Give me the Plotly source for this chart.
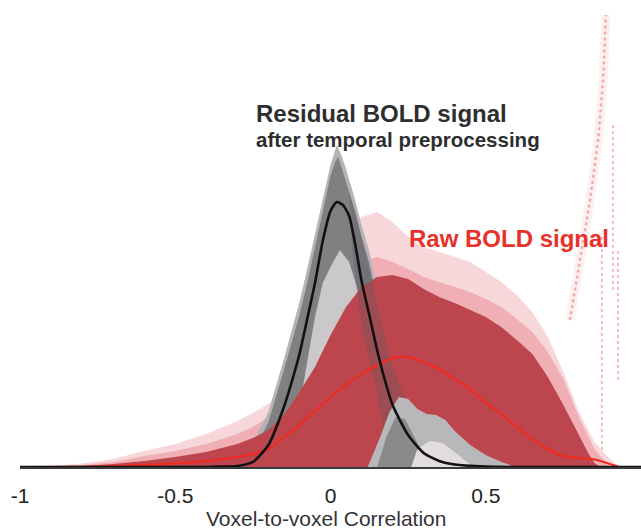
import plotly.graph_objects as go

# ---- Data (x: voxel-to-voxel correlation, y: count, arbitrary units) ----
# Raw BOLD signal: sparse outer envelope of individual histograms
raw_sparse_x = [-0.97,-0.9,-0.8,-0.7,-0.6,-0.5,-0.4,-0.3,-0.25,-0.2,-0.15,-0.1,-0.05,0,0.05,0.1,0.15,0.2,0.25,0.3,0.35,0.4,0.45,0.5,0.55,0.6,0.65,0.7,0.75,0.8,0.85,0.9,0.93]
raw_sparse_y = [0,1,3.5,8,16,23,33,46,54,63,75,110,150,190,225,250,255,245,230,220,215,210,205,195,185,172,155,130,95,55,25,8,0]

# Raw BOLD signal: denser outer envelope
raw_dense_x = [-0.95,-0.9,-0.8,-0.7,-0.6,-0.5,-0.4,-0.3,-0.25,-0.2,-0.15,-0.1,-0.05,0,0.05,0.1,0.15,0.2,0.25,0.3,0.35,0.4,0.45,0.5,0.55,0.6,0.65,0.7,0.75,0.8,0.85,0.9]
raw_dense_y = [0,0.5,2,5,11,16,23,33,40,50,62,95,125,155,185,205,210,205,198,190,185,180,175,168,160,148,135,115,88,50,18,0]

# Raw BOLD signal: core band of histograms
raw_core_x = [-0.9,-0.8,-0.7,-0.6,-0.5,-0.4,-0.3,-0.25,-0.2,-0.15,-0.1,-0.05,0,0.05,0.1,0.15,0.2,0.25,0.3,0.35,0.4,0.45,0.5,0.55,0.6,0.65,0.7,0.75,0.8,0.83,0.85,0.87]
raw_core_y = [0,1,3,6,10,15,23,29,37,52,75,100,132,160,180,190,192,188,178,170,164,157,150,140,127,113,90,62,32,14,4,0]

# Raw BOLD signal: sparse outlier histograms near r = 0.9
spike_x = [0.771,0.804,0.836,0.862,0.878,0.887]
spike_y = [147,207,267,327,387,452]
spike_cols_x = [0.874,0.874,None,0.91,0.91,None,0.926,0.926]
spike_cols_y = [17,234,None,177,342,None,87,217]

# Residual BOLD signal: outer and inner envelopes
res_outer_x = [-0.35,-0.3,-0.25,-0.2,-0.15,-0.1,-0.075,-0.05,-0.025,0,0.02,0.035,0.05,0.075,0.1,0.125,0.15,0.175,0.2,0.25,0.3,0.35,0.4,0.45,0.5,0.55,0.6]
res_outer_y = [0,6,24,55,108,165,198,232,268,302,322,312,298,272,242,215,178,142,112,68,53,46,32,20,10,5,0]
res_inner_x = [-0.32,-0.3,-0.25,-0.2,-0.15,-0.1,-0.075,-0.05,-0.025,0,0.015,0.025,0.04,0.06,0.08,0.1,0.125,0.15,0.175,0.2,0.25,0.3,0.35,0.4,0.45,0.5]
res_inner_y = [0,3,14,45,97,152,184,219,254,291,305,310,295,276,255,230,204,165,128,101,60,42,30,15,6,0]
res_gap_x = [-0.12,-0.1,-0.075,-0.05,-0.025,0,0.03,0.06,0.09,0.12,0.15,0.2,0.22,0.24]
res_gap_y = [0,60,105,150,184,200,217,205,175,135,110,65,40,0]

# Residual BOLD signal: right flank band (outline) that overlaps the raw core
flank_x = [0.06,0.1,0.15,0.175,0.2,0.25,0.25,0.19,0.175,0.143,0.095,0.07,0.06]
flank_y = [276,230,165,128,101,60,0,0,30,83,150,217,276]

# Residual BOLD signal: shoulder near r = 0.3
shoulder_outer_x = [0.12,0.16,0.19,0.22,0.25,0.28,0.31,0.34,0.37,0.4,0.45,0.5,0.55,0.6]
shoulder_outer_y = [0,30,55,70,68,58,53,52,47,36,22,12,5,0]
shoulder_inner_x = [0.15,0.18,0.21,0.24,0.27,0.3,0.32]
shoulder_inner_y = [0,30,50,48,30,12,0]
shoulder_gap_x = [0.26,0.28,0.32,0.36,0.4,0.44,0.46]
shoulder_gap_y = [0,18,26,24,15,5,0]

# Mean histograms
raw_mean_x = [-1,-0.8,-0.7,-0.6,-0.5,-0.4,-0.3,-0.25,-0.2,-0.15,-0.1,-0.05,0,0.05,0.1,0.15,0.2,0.25,0.3,0.35,0.4,0.45,0.5,0.55,0.6,0.65,0.7,0.75,0.8,0.85,0.88,0.91,0.93,1]
raw_mean_y = [0,0.3,1,2,3.5,6,10,13,18,30,42,56,70,82,93,102,109,110,105,98,88,78,64,53,40,28,18,11,9,7.5,5,2,0,0]
res_mean_x = [-1,-0.4,-0.35,-0.3,-0.25,-0.2,-0.15,-0.125,-0.1,-0.075,-0.05,-0.025,0,0.02,0.04,0.06,0.08,0.1,0.125,0.15,0.175,0.2,0.25,0.3,0.35,0.4,0.5,0.6,1]
res_mean_y = [0,0,0.5,1,5,22,60,85,113,148,184,226,256,265,262,251,222,186,152,117,87,62,32,14,6,2.5,0.5,0,0]

tick_vals = [-1, -0.5, 0, 0.5, 1]
tick_text = ["-1", "-0.5", "0", "0.5", "1"]
x_title = "Voxel-to-voxel Correlation"

FONT = "Liberation Sans, Arial, Helvetica, sans-serif"

fig = go.Figure()

def area(x, y, color, opacity=1.0, fill="tozeroy"):
    fig.add_trace(go.Scatter(x=x, y=y, mode="lines", fill=fill,
                             fillcolor=color, line=dict(width=0, color=color),
                             opacity=opacity, hoverinfo="skip", showlegend=False))

area(raw_sparse_x, raw_sparse_y, "#f8d7da")
area(raw_dense_x, raw_dense_y, "#f0afb5")

fig.add_trace(go.Scatter(x=spike_x, y=spike_y, mode="lines",
                         line=dict(width=9, color="rgba(242,170,177,0.18)"),
                         hoverinfo="skip", showlegend=False))
fig.add_trace(go.Scatter(x=spike_x, y=spike_y, mode="lines",
                         line=dict(width=2.5, color="#f2aab0", dash="dot"),
                         hoverinfo="skip", showlegend=False))
fig.add_trace(go.Scatter(x=spike_cols_x, y=spike_cols_y, mode="lines",
                         line=dict(width=2, color="#f5bcc1", dash="dot"),
                         hoverinfo="skip", showlegend=False))

area(res_outer_x, res_outer_y, "#b4b4b6")
area(res_inner_x, res_inner_y, "#808083")
area(res_gap_x, res_gap_y, "#cbc8c9")
area(raw_core_x, raw_core_y, "#bd464e", opacity=0.85)
area(flank_x, flank_y, "rgba(95,90,95,0.35)", fill="toself")
area(shoulder_outer_x, shoulder_outer_y, "#b8b8ba")
area(shoulder_inner_x, shoulder_inner_y, "#8a8a8d")
area(shoulder_gap_x, shoulder_gap_y, "#e2dcdd")

fig.add_trace(go.Scatter(x=raw_mean_x, y=raw_mean_y, mode="lines",
                         line=dict(width=2, color="#f2291c", shape="spline", smoothing=0.6),
                         hoverinfo="skip", showlegend=False))
fig.add_trace(go.Scatter(x=res_mean_x, y=res_mean_y, mode="lines",
                         line=dict(width=2.6, color="#111111", shape="spline", smoothing=0.6),
                         hoverinfo="skip", showlegend=False))

fig.add_annotation(x=-0.247, y=354, xref="x", yref="y", xanchor="left", yanchor="middle",
                   text="<b>Residual BOLD signal</b>", showarrow=False,
                   font=dict(family=FONT, size=24, color="#2e2e2e"))
fig.add_annotation(x=-0.247, y=328, xref="x", yref="y", xanchor="left", yanchor="middle",
                   text="<b>after temporal preprocessing</b>", showarrow=False,
                   font=dict(family=FONT, size=20.5, color="#2e2e2e"))
fig.add_annotation(x=0.246, y=229, xref="x", yref="y", xanchor="left", yanchor="middle",
                   text="<b>Raw BOLD signal</b>", showarrow=False,
                   font=dict(family=FONT, size=24, color="#e8312b"))
# x-axis title, placed under the tick labels
fig.add_annotation(x=-0.015, y=-0.11, xref="x", yref="paper", xanchor="center", yanchor="middle",
                   text=x_title, showarrow=False,
                   font=dict(family=FONT, size=21, color="#333333"))

fig.update_layout(
    width=641, height=529,
    margin=dict(l=20, r=0, t=0, b=62, autoexpand=False),
    paper_bgcolor="white", plot_bgcolor="white",
    showlegend=False,
    xaxis=dict(range=[-1, 1], tickvals=tick_vals, ticktext=tick_text,
               automargin=False,
               showgrid=False, zeroline=False, showline=True,
               linecolor="#3a3a3a", linewidth=2,
               ticks="outside", ticklen=9, tickcolor="rgba(0,0,0,0)",
               tickfont=dict(family=FONT, size=21, color="#222222")),
    yaxis=dict(range=[0, 467], visible=False, fixedrange=True, automargin=False),
)

fig.write_html("out.html",
               config={"displayModeBar": False, "staticPlot": True},
               post_script="document.body.style.margin='0';document.body.style.overflow='hidden';")
